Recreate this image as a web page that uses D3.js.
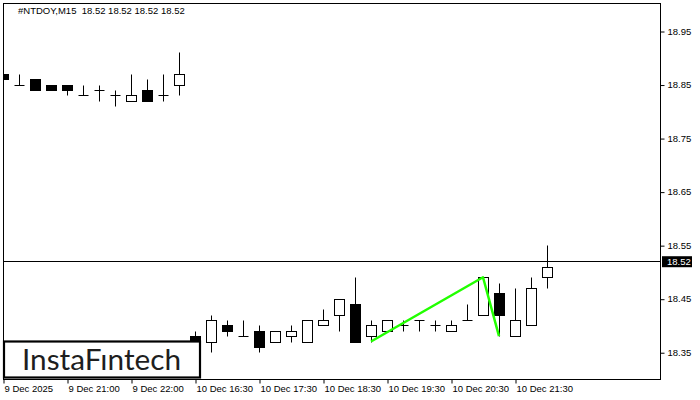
<!DOCTYPE html>
<html>
<head>
<meta charset="utf-8">
<script src="https://cdn.jsdelivr.net/npm/d3@7"></script>
<style>
  html, body { margin: 0; padding: 0; background: #fff; }
  svg { display: block; }
</style>
</head>
<body>
<svg id="chart" width="700" height="400"></svg>
<script>
// ---- data (M15 candles, index-based) ----
const opens  = [18.87,18.85,18.86,18.85,18.85,18.83,18.84,18.83,18.82,18.84,18.83,18.85,
                18.38,18.37,18.40,18.38,18.39,18.37,18.38,18.37,18.40,18.42,18.44,18.38,
                18.39,18.40,18.41,18.40,18.39,18.41,18.42,18.46,18.38,18.40,18.49];
const highs  = [18.90,18.87,18.86,18.85,18.85,18.85,18.85,18.84,18.87,18.86,18.87,18.91,
                18.39,18.42,18.41,18.41,18.40,18.39,18.40,18.41,18.43,18.45,18.49,18.41,
                18.41,18.41,18.41,18.41,18.41,18.44,18.49,18.48,18.47,18.49,18.55];
const lows   = [18.85,18.85,18.84,18.84,18.83,18.83,18.82,18.81,18.82,18.82,18.82,18.83,
                18.36,18.35,18.38,18.38,18.35,18.37,18.37,18.37,18.40,18.39,18.37,18.37,
                18.39,18.39,18.39,18.39,18.39,18.41,18.42,18.38,18.38,18.40,18.47];
const closes = [18.86,18.85,18.84,18.84,18.84,18.83,18.84,18.83,18.83,18.82,18.83,18.87,
                18.37,18.41,18.39,18.38,18.36,18.39,18.39,18.41,18.41,18.45,18.37,18.40,
                18.41,18.40,18.41,18.40,18.40,18.41,18.49,18.42,18.41,18.47,18.51];
const tickIndex  = [0, 4, 8, 12, 16, 20, 24, 28, 32];
const tickLabels = ["9 Dec 2025","9 Dec 21:00","9 Dec 22:00","10 Dec 16:30","10 Dec 17:30",
                    "10 Dec 18:30","10 Dec 19:30","10 Dec 20:30","10 Dec 21:30"];
const priceTicks = [18.35, 18.45, 18.55, 18.65, 18.75, 18.85, 18.95];
const patternIdx = [23, 30, 31];
const patternVal = [18.37, 18.49, 18.38];
const currentPrice = 18.52;
const titleText = "#NTDOY,M15  18.52 18.52 18.52 18.52";

// ---- layout ----
const L = 3, R = 660, T = 3, B = 379;
const svg = d3.select("#chart");
const x = d3.scaleLinear().domain([0, 41]).range([L, L + 41 * 16]);
const y = d3.scaleLinear().domain([18.30, 19.0023]).range([B, T]);
const font = "'Liberation Sans', Arial, sans-serif";

svg.append("rect").attr("width", 700).attr("height", 400).attr("fill", "#fff");

svg.append("defs").append("clipPath").attr("id", "plotclip")
  .append("rect").attr("x", L).attr("y", T + 0.5).attr("width", R - L + 0.5).attr("height", B - T);

const plot = svg.append("g").attr("clip-path", "url(#plotclip)");

const data = opens.map((o, i) => ({ i, o, h: highs[i], l: lows[i], c: closes[i] }));
const px = v => Math.round(v) + 0.5;
const bw = 5;

const g = plot.selectAll("g.candle").data(data).join("g").attr("class", "candle");
g.append("line")
  .attr("x1", d => px(x(d.i))).attr("x2", d => px(x(d.i)))
  .attr("y1", d => px(y(d.h))).attr("y2", d => px(y(d.l)))
  .attr("stroke", "#000").attr("stroke-width", 1);
g.each(function(d) {
  const sel = d3.select(this);
  const top = Math.max(d.o, d.c), bot = Math.min(d.o, d.c);
  const xc = px(x(d.i));
  if (top === bot) {
    sel.append("line")
      .attr("x1", xc - bw).attr("x2", xc + bw)
      .attr("y1", px(y(top))).attr("y2", px(y(top)))
      .attr("stroke", "#000").attr("stroke-width", 1);
  } else {
    sel.append("rect")
      .attr("x", xc - bw).attr("width", bw * 2)
      .attr("y", px(y(top))).attr("height", Math.round(y(bot)) - Math.round(y(top)))
      .attr("fill", d.c < d.o ? "#000" : "#fff")
      .attr("stroke", "#000").attr("stroke-width", 1);
  }
});

// current price line
plot.append("line")
  .attr("x1", L).attr("x2", R)
  .attr("y1", px(y(currentPrice))).attr("y2", px(y(currentPrice)))
  .attr("stroke", "#000").attr("stroke-width", 1);

// pattern line
plot.append("path")
  .datum(patternIdx.map((d, k) => [d, patternVal[k]]))
  .attr("d", d3.line().x(d => x(d[0])).y(d => y(d[1])))
  .attr("fill", "none").attr("stroke", "#22ff00").attr("stroke-width", 2.5)
  .attr("stroke-linejoin", "round");

// frame
svg.append("rect")
  .attr("x", L + 0.5).attr("y", T + 0.5).attr("width", R - L).attr("height", B - T)
  .attr("fill", "none").attr("stroke", "#000").attr("stroke-width", 1);

// right axis
const ya = svg.append("g").attr("transform", `translate(${R + 0.5},0)`)
  .call(d3.axisRight(y).tickValues(priceTicks).tickSize(4).tickPadding(3).tickFormat(d3.format(".2f")));
ya.select(".domain").remove();
ya.selectAll("line").attr("stroke", "#000").attr("transform", "translate(0,0.5)");
ya.selectAll("text").attr("font-family", font).attr("font-size", "9.5px").attr("fill", "#000");

// current price tag
svg.append("rect").attr("x", 662).attr("y", y(currentPrice) - 5).attr("width", 30).attr("height", 11).attr("fill", "#000");
svg.append("text").attr("x", 667).attr("y", y(currentPrice)).attr("dy", "0.35em")
  .attr("font-family", font).attr("font-size", "9.5px").attr("fill", "#fff").text(currentPrice.toFixed(2));

// bottom axis
const xa = svg.append("g").attr("transform", `translate(0,${B + 0.5})`)
  .call(d3.axisBottom(x).tickValues(tickIndex).tickSize(4).tickFormat((d, k) => tickLabels[k]));
xa.select(".domain").remove();
xa.selectAll("line").attr("stroke", "#000").attr("transform", "translate(0.5,0)");
xa.selectAll("text").attr("font-family", font).attr("font-size", "9.5px").attr("fill", "#000")
  .attr("text-anchor", "start").attr("x", 1).attr("y", 6).attr("dy", "0.71em");

// title
svg.append("text").attr("x", 18).attr("y", 14)
  .attr("font-family", font).attr("font-size", "9.5px").attr("fill", "#000")
  .attr("xml:space", "preserve").style("white-space", "pre").text(titleText);

// logo
svg.append("rect").attr("x", 4).attr("y", 341.5).attr("width", 196).attr("height", 36)
  .attr("fill", "#fff").attr("stroke", "#000").attr("stroke-width", 2.2);
svg.append("text").attr("x", 22).attr("y", 369.5)
  .attr("font-family", "Lato, 'Open Sans', sans-serif").attr("font-size", "28px").attr("fill", "#1e1e1e")
  .attr("textLength", 159).attr("lengthAdjust", "spacingAndGlyphs")
  .text("InstaF\u0131ntech");
</script>
</body>
</html>
